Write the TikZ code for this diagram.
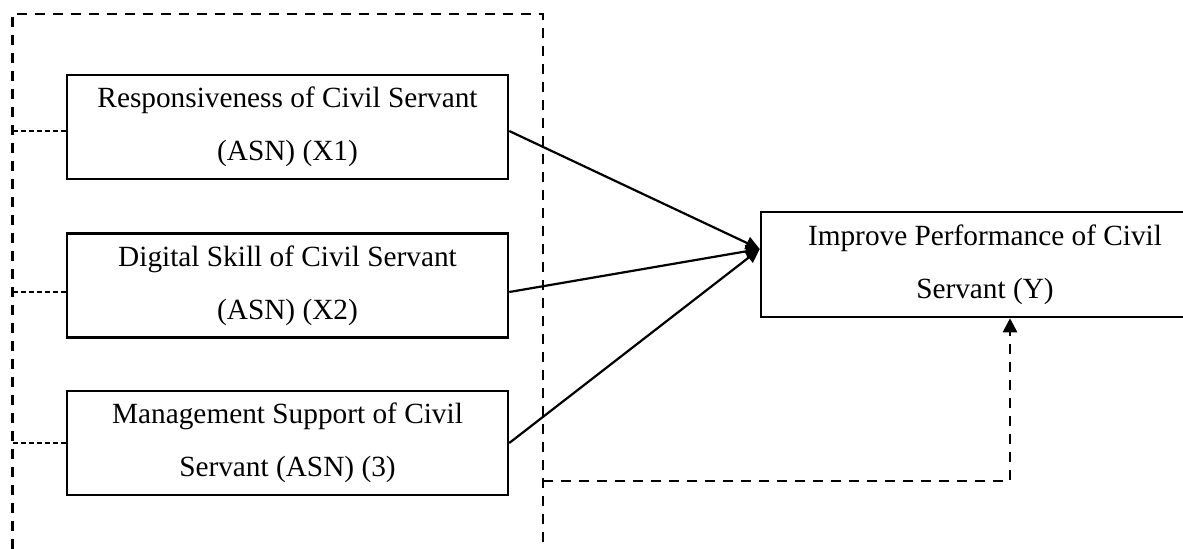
\documentclass[tikz,border=0pt]{standalone}
\usepackage{fontspec}
\setmainfont{Liberation Serif}
\usetikzlibrary{positioning, calc, arrows.meta}
\tikzset{
    every node/.style={font=\fontsize{14.65pt}{26.5pt}\selectfont},
    varbox/.style={draw, line width=1.25pt, minimum width=220.5pt, minimum height=52pt, inner sep=0pt, align=center, execute at begin node=\rule{0pt}{16.5pt}},
    framedash/.style={draw, line width=1.3pt, dash pattern=on 5pt off 4pt, inner sep=0pt, outer sep=0pt},
    linkdash/.style={line width=0.6pt, dash pattern=on 2.4pt off 1.6pt},
    arrow/.style={-{Triangle[length=7pt, width=6.5pt]}, line width=1.1pt},
    backarrow/.style={-{Triangle[length=7pt, width=7pt]}, line width=1.3pt, dash pattern=on 5pt off 4pt},
}

\begin{document}
\begin{tikzpicture}[x=0.5pt, y=-0.5pt]
  \useasboundingbox (0,0) rectangle (1183,548);
  % outer dashed frame, its bottom runs off the page
  \node[framedash, minimum width=265.15pt, minimum height=278pt] (frame) at (277.85,292) {};
  \node[varbox] (b1) at (287.5,127) {Responsiveness of Civil Servant\\(ASN) (X1)};
  \node[varbox, below=26pt of b1] (b2) {Digital Skill of Civil Servant\\(ASN) (X2)};
  \node[varbox, below=25.5pt of b2] (b3) {Management Support of Civil\\Servant (ASN) (3)};
  \node[varbox, minimum width=224pt, minimum height=52.5pt] (perf) at (985,264.5) {Improve Performance of Civil\\Servant (Y)};
  \coordinate (hub) at ([yshift=7.75pt]perf.west);
  \coordinate (fbrow) at (0,481);
    \draw[linkdash] ([yshift=-2pt]b1.west) -- ([yshift=-2pt]b1.west -| frame.west);
    \draw[linkdash] ([yshift=-3.25pt]b2.west) -- ([yshift=-3.25pt]b2.west -| frame.west);
    \draw[linkdash] (b3.west) -- (b3.west -| frame.west);
    \draw[arrow] ([yshift=-2pt]b1.east) -- (hub);
    \draw[arrow] ([yshift=-3.25pt]b2.east) -- (hub);
    \draw[arrow] (b3.east) -- (hub);
    \draw[backarrow] (frame.east |- fbrow) -| ([xshift=12.5pt]perf.south);
\end{tikzpicture}
\end{document}
